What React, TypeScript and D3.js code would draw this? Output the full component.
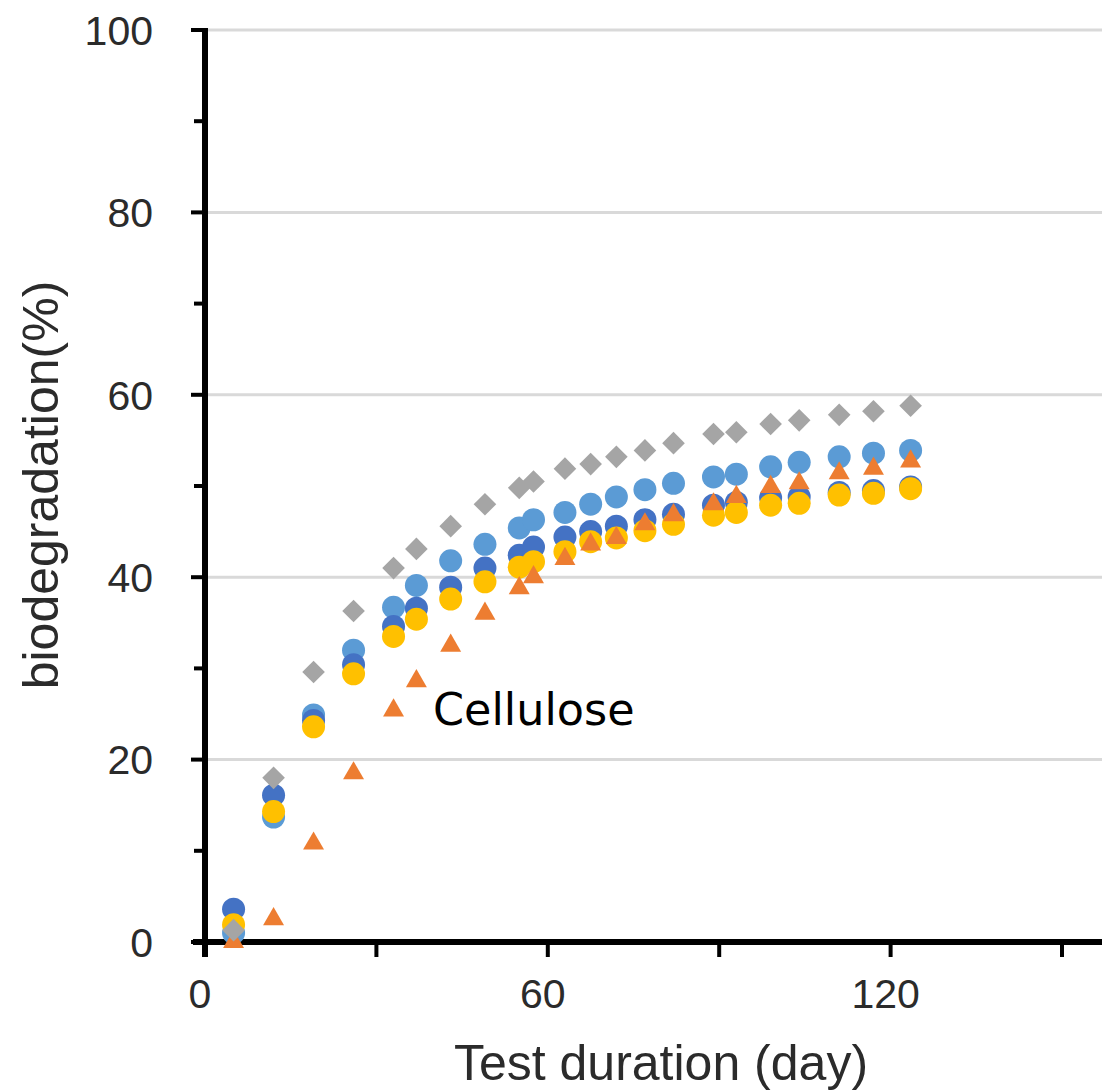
import React, { useEffect, useRef } from 'react';
import * as d3 from 'd3';

// sampling days
const days = [5, 12, 19, 26, 33, 37, 43, 49, 55, 57.5, 63, 67.5, 72, 77, 82, 89, 93, 99, 104, 111, 117, 123.5];

const graySeries = [1.3, 18.0, 29.6, 36.3, 41.0, 43.1, 45.6, 48.0, 49.8, 50.5, 51.9, 52.4, 53.2, 53.9, 54.7, 55.7, 55.9, 56.8, 57.2, 57.8, 58.2, 58.8];
const lightBlueSeries = [1.0, 13.7, 24.9, 32.0, 36.7, 39.1, 41.8, 43.6, 45.4, 46.3, 47.1, 48.0, 48.8, 49.6, 50.3, 51.0, 51.3, 52.1, 52.6, 53.2, 53.6, 53.9];
const darkBlueSeries = [3.6, 16.1, 24.3, 30.4, 34.6, 36.6, 38.9, 41.0, 42.4, 43.3, 44.4, 45.0, 45.6, 46.3, 46.9, 47.9, 48.2, 48.7, 48.8, 49.3, 49.5, 49.9];
const yellowSeries = [1.9, 14.3, 23.6, 29.4, 33.5, 35.4, 37.6, 39.5, 41.1, 41.7, 42.8, 43.9, 44.3, 45.1, 45.8, 46.8, 47.1, 47.9, 48.1, 49.0, 49.2, 49.7];
const celluloseSeries = [0, 2.5, 10.8, 18.5, 25.4, 28.6, 32.5, 36.0, 38.8, 40.0, 42.0, 43.6, 44.3, 45.8, 46.8, 48.0, 48.8, 49.9, 50.3, 51.4, 51.9, 52.7];

const xTicks = [0, 30, 60, 90, 120, 150];
const xLabels = [0, 60, 120];
const yTicks = [0, 10, 20, 30, 40, 50, 60, 70, 80, 90, 100];
const yLabels = [0, 20, 40, 60, 80, 100];

const W = 1102;
const H = 1091;

const App = () => {
    const svgRef = useRef(null);

    useEffect(() => {
        const svg = d3.select(svgRef.current);
        svg.selectAll("*").remove();

        const x = d3.scaleLinear().domain([0, 157]).range([205, W]);
        const y = d3.scaleLinear().domain([0, 100]).range([942, 30]);

        const labelFont = "'Liberation Sans', Arial, sans-serif";
        const labelColor = "#2b2b2b";

        // Gridlines
        svg.append("g")
            .selectAll("line")
            .data(yLabels.filter(d => d > 0))
            .enter()
            .append("line")
            .attr("x1", x(0))
            .attr("x2", W)
            .attr("y1", d => y(d))
            .attr("y2", d => y(d))
            .attr("stroke", "#d9d9d9")
            .attr("stroke-width", 3);

        // Y axis
        const yAxis = svg.append("g");
        yAxis.selectAll("line.tick")
            .data(yTicks)
            .enter()
            .append("line")
            .attr("class", "tick")
            .attr("x1", d => (d % 20 === 0 ? x(0) - 14 : x(0) - 11))
            .attr("x2", x(0))
            .attr("y1", d => y(d))
            .attr("y2", d => y(d))
            .attr("stroke", "#000")
            .attr("stroke-width", 4);
        yAxis.append("line")
            .attr("x1", x(0))
            .attr("x2", x(0))
            .attr("y1", y(100) - 2)
            .attr("y2", y(0) + 15)
            .attr("stroke", "#000")
            .attr("stroke-width", 6);
        yAxis.selectAll("text")
            .data(yLabels)
            .enter()
            .append("text")
            .attr("x", 153)
            .attr("y", d => y(d))
            .attr("dy", "0.36em")
            .attr("text-anchor", "end")
            .style("font-family", labelFont)
            .style("font-size", "41px")
            .style("fill", labelColor)
            .text(d => d);

        // X axis
        const xAxis = svg.append("g");
        xAxis.selectAll("line.tick")
            .data(xTicks)
            .enter()
            .append("line")
            .attr("class", "tick")
            .attr("x1", d => x(d))
            .attr("x2", d => x(d))
            .attr("y1", y(0))
            .attr("y2", y(0) + 15)
            .attr("stroke", "#000")
            .attr("stroke-width", 4);
        xAxis.append("line")
            .attr("x1", x(0) - 12)
            .attr("x2", W)
            .attr("y1", y(0))
            .attr("y2", y(0))
            .attr("stroke", "#000")
            .attr("stroke-width", 6);
        xAxis.selectAll("text")
            .data(xLabels)
            .enter()
            .append("text")
            .attr("x", d => x(d) - 5)
            .attr("y", 1008)
            .attr("text-anchor", "middle")
            .style("font-family", labelFont)
            .style("font-size", "41px")
            .style("fill", labelColor)
            .text(d => d);

        // Axis titles
        svg.append("text")
            .attr("x", 661)
            .attr("y", 1080)
            .attr("text-anchor", "middle")
            .style("font-family", labelFont)
            .style("font-size", "50px")
            .style("fill", labelColor)
            .text("Test duration (day)");

        svg.append("text")
            .attr("transform", "translate(58,485) rotate(-90)")
            .attr("text-anchor", "middle")
            .style("font-family", labelFont)
            .style("font-size", "50px")
            .style("fill", labelColor)
            .text("biodegradation(%)");

        // Markers, drawn in stacking order
        const circle = d3.symbol().type(d3.symbolCircle).size(Math.PI * 11.5 * 11.5);
        const triangle = d3.symbol().type(d3.symbolTriangle).size(190);
        const diamond = d3.symbol().type(d3.symbolSquare).size(256);

        const series = [
            { values: lightBlueSeries, color: "#5B9BD5", path: circle(), rot: 0 },
            { values: darkBlueSeries, color: "#4472C4", path: circle(), rot: 0 },
            { values: yellowSeries, color: "#FFC000", path: circle(), rot: 0 },
            { values: celluloseSeries, color: "#ED7D31", path: triangle(), rot: 0 },
            { values: graySeries, color: "#A5A5A5", path: diamond(), rot: 45 },
        ];

        series.forEach(s => {
            svg.append("g")
                .selectAll("path")
                .data(s.values)
                .enter()
                .append("path")
                .attr("d", s.path)
                .attr("transform", (d, i) => `translate(${x(days[i])},${y(d)}) rotate(${s.rot})`)
                .attr("fill", s.color);
        });

        // Annotation
        svg.append("text")
            .attr("x", 433)
            .attr("y", 725)
            .style("font-family", "'DejaVu Sans', Verdana, sans-serif")
            .style("font-size", "44.5px")
            .style("fill", "#000")
            .text("Cellulose");
    }, []);

    return (
        <svg
            ref={svgRef}
            width={W}
            height={H}
            style={{ position: 'absolute', left: 0, top: 0, background: '#fff', display: 'block' }}
        ></svg>
    );
};

export default App;
